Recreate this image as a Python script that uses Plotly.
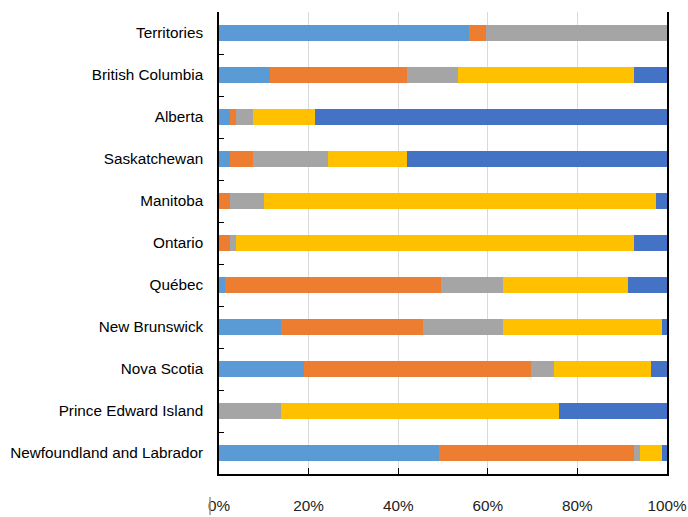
import plotly.graph_objects as go

provinces = ["Territories", "British Columbia", "Alberta", "Saskatchewan", "Manitoba",
             "Ontario", "Québec", "New Brunswick", "Nova Scotia",
             "Prince Edward Island", "Newfoundland and Labrador"]

series1 = [55.8, 11.4, 2.5, 2.5, 0.0, 0.0, 1.3, 13.9, 19.0, 0.0, 49.1]
series2 = [3.9, 30.5, 1.4, 5.1, 2.5, 2.5, 48.2, 31.6, 50.6, 0.0, 43.6]
series3 = [40.3, 11.4, 3.7, 16.7, 7.5, 1.4, 13.8, 17.8, 5.1, 13.9, 1.2]
series4 = [0.0, 39.3, 13.9, 17.7, 87.6, 88.7, 28.1, 35.6, 21.7, 62.1, 5.0]
series5 = [0.0, 7.4, 78.5, 58.0, 2.4, 7.4, 8.6, 1.1, 3.6, 24.0, 1.1]

series_names = ["Series 1", "Series 2", "Series 3", "Series 4", "Series 5"]
colors = ["#5B9BD5", "#ED7D31", "#A5A5A5", "#FFC000", "#4472C4"]
x_ticks = [0, 20, 40, 60, 80, 100]
x_tick_labels = ["0%", "20%", "40%", "60%", "80%", "100%"]

FONT = "Liberation Sans, Arial, sans-serif"

fig = go.Figure()
for name, vals, col in zip(series_names, [series1, series2, series3, series4, series5], colors):
    fig.add_trace(go.Bar(y=provinces, x=vals, name=name, orientation="h",
                         marker=dict(color=col, line=dict(width=0)), width=0.4))

fig.update_layout(
    barmode="stack",
    width=688, height=517,
    margin=dict(l=219, r=21, t=12, b=43, autoexpand=False),
    plot_bgcolor="white", paper_bgcolor="white",
    showlegend=False,
    font=dict(family=FONT, size=16, color="#000000"),
)
fig.update_xaxes(range=[0, 100], tickvals=x_ticks, ticktext=x_tick_labels,
                 showgrid=True, gridcolor="#D9D9D9", gridwidth=1,
                 showline=True, linecolor="#000000", linewidth=1.5,
                 ticks="inside", ticklen=6, tickcolor="#000000",
                 ticklabelstandoff=17, zeroline=False, automargin=False,
                 tickfont=dict(size=15.3, color="#222222"))
fig.update_yaxes(autorange="reversed", showline=True, mirror=True,
                 linecolor="#000000", linewidth=1.5,
                 ticks="inside", ticklen=5, tickcolor="#000000",
                 tickson="boundaries", ticklabelstandoff=11, showgrid=False,
                 automargin=False, tickfont=dict(size=15.3, color="#000000"))

fig.add_shape(type="line", xref="paper", yref="paper",
              x0=-9/448, x1=-9/448, y0=-23/462, y1=-41/462,
              line=dict(color="#999999", width=1.5))

# remove the default page margin so the 688x517 figure fills the window exactly
post = ("document.body.style.margin='0';"
        "document.documentElement.style.overflow='hidden';"
        "document.body.style.overflow='hidden';")

fig.write_html("out.html", post_script=post, config={"displayModeBar": False})
